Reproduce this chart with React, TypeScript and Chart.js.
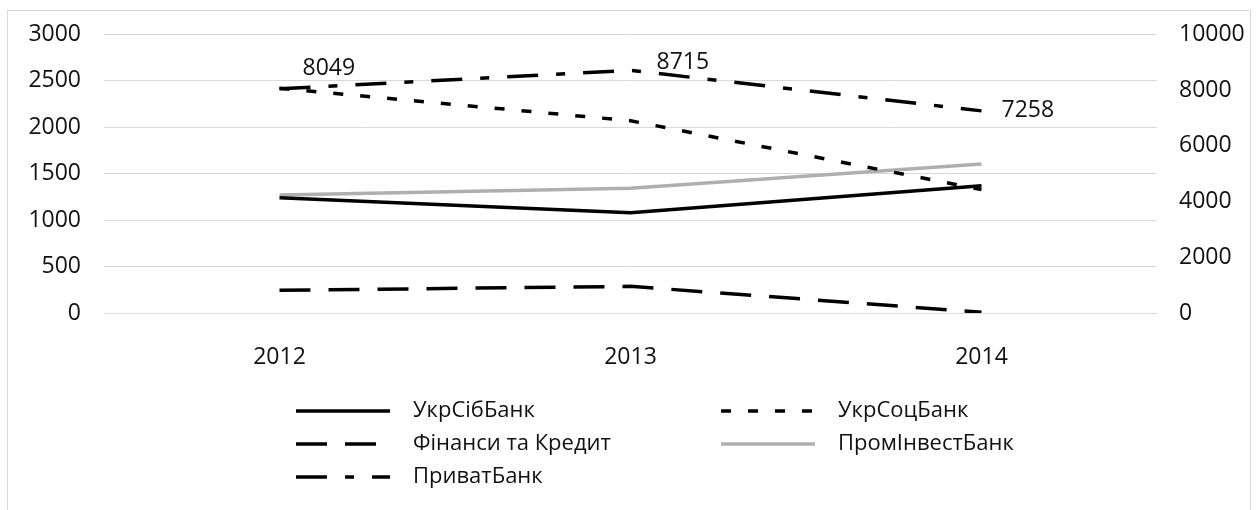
import React, { useEffect, useRef } from 'react';
import { Chart, registerables } from 'chart.js';

Chart.register(...registerables);

// ---- data ----
const years = ['2012', '2013', '2014'];
const seriesNames = ['УкрСібБанк', 'УкрСоцБанк', 'Фінанси та Кредит', 'ПромІнвестБанк', 'ПриватБанк'];
const ukrSibBank = [1242, 1080, 1371];
const ukrSotsBank = [2420, 2071, 1330];
const finansyKredyt = [244, 287, 8];
const promInvestBank = [1271, 1343, 1605];
const privatBank = [8049, 8715, 7258];
const leftAxis = { min: 0, max: 3000, step: 500 };
const rightAxis = { min: 0, max: 10000, step: 2000 };

// label nudges (styling of the manually placed data labels)
const privatLabelNudge = [
  [23, -20],
  [26, -8],
  [20, 0],
];

const FONT = '"Open Sans", "Liberation Sans", sans-serif';
const TEXT = '#111111';

const privatLabels = {
  id: 'privatLabels',
  afterDatasetsDraw(chart: any) {
    const meta = chart.getDatasetMeta(4);
    const ds = chart.data.datasets[4];
    const ctx = chart.ctx;
    ctx.save();
    ctx.font = `23px ${FONT}`;
    ctx.fillStyle = TEXT;
    ctx.textAlign = 'left';
    ctx.textBaseline = 'middle';
    meta.data.forEach((pt: any, i: number) => {
      const [dx, dy] = privatLabelNudge[i];
      ctx.fillText(String(ds.data[i]), pt.x + dx, pt.y + dy);
    });
    ctx.restore();
  },
};

const customLegend = {
  id: 'customLegend',
  afterDraw(chart: any) {
    const ctx = chart.ctx;
    const cx = chart.width / 2;
    const colLineStart = [cx - 333, cx + 92];
    const lineLen = 94;
    const textGap = 23;
    const rowY = [400, 433, 466];
    ctx.save();
    chart.data.datasets.forEach((ds: any, i: number) => {
      const col = i % 2;
      const row = Math.floor(i / 2);
      const x0 = colLineStart[col];
      const y = rowY[row];
      ctx.beginPath();
      ctx.strokeStyle = ds.borderColor;
      ctx.lineWidth = ds.borderWidth;
      ctx.lineCap = 'butt';
      ctx.setLineDash(ds.borderDash || []);
      ctx.lineDashOffset = 0;
      ctx.moveTo(x0, y);
      ctx.lineTo(x0 + lineLen, y);
      ctx.stroke();
      ctx.setLineDash([]);
      ctx.font = `22px ${FONT}`;
      ctx.fillStyle = TEXT;
      ctx.textAlign = 'left';
      ctx.textBaseline = 'middle';
      ctx.fillText(ds.label, x0 + lineLen + textGap, y);
    });
    ctx.restore();
  },
};

export default function App() {
  const ref = useRef<HTMLCanvasElement | null>(null);

  useEffect(() => {
    if (!ref.current) return;
    const common = {
      borderWidth: 3.5,
      borderCapStyle: 'butt',
      pointRadius: 0,
      pointHoverRadius: 0,
      fill: false,
      tension: 0,
    };
    const plain = (v: any) => String(v);
    const chart = new Chart(ref.current, {
      type: 'line',
      data: {
        labels: years,
        datasets: [
          { ...common, label: seriesNames[0], data: ukrSibBank, borderColor: '#000000', borderDash: [], yAxisID: 'y' },
          { ...common, label: seriesNames[1], data: ukrSotsBank, borderColor: '#000000', borderDash: [10, 17], yAxisID: 'y' },
          { ...common, label: seriesNames[2], data: finansyKredyt, borderColor: '#000000', borderDash: [31, 18], yAxisID: 'y' },
          { ...common, label: seriesNames[3], data: promInvestBank, borderColor: '#afafaf', borderDash: [], yAxisID: 'y' },
          { ...common, label: seriesNames[4], data: privatBank, borderColor: '#000000', borderDash: [31, 18, 9, 18], yAxisID: 'y1' },
        ] as any,
      },
      options: {
        responsive: false,
        animation: false,
        events: [],
        layout: { padding: { top: 23.5, bottom: 137, left: 0, right: 0 } },
        plugins: {
          legend: { display: false },
          tooltip: { enabled: false },
        },
        scales: {
          x: {
            offset: true,
            grid: { display: false, drawTicks: false },
            border: { display: false },
            ticks: { color: TEXT, font: { family: FONT, size: 23 }, padding: 31, maxRotation: 0 },
            afterFit: (s: any) => { s.height = 60; s.paddingLeft = 0; s.paddingRight = 0; },
          },
          y: {
            position: 'left',
            min: leftAxis.min,
            max: leftAxis.max,
            ticks: { stepSize: leftAxis.step, color: TEXT, font: { family: FONT, size: 23 }, padding: 23, callback: plain },
            grid: { color: '#d9d9d9', lineWidth: 1, drawTicks: false },
            border: { display: false },
            afterFit: (s: any) => { s.width = 96; s.paddingTop = 0; s.paddingBottom = 0; },
          },
          y1: {
            position: 'right',
            min: rightAxis.min,
            max: rightAxis.max,
            ticks: { stepSize: rightAxis.step, color: TEXT, font: { family: FONT, size: 23 }, padding: 22, callback: plain },
            grid: { display: false, drawTicks: false },
            border: { display: false },
            afterFit: (s: any) => { s.width = 93; s.paddingTop = 0; s.paddingBottom = 0; },
          },
        },
      } as any,
      plugins: [privatLabels, customLegend],
    });
    return () => chart.destroy();
  }, []);

  return (
    <div
      style={{
        position: 'absolute',
        left: 7,
        top: 10,
        width: 1244,
        height: 520,
        border: '1px solid #d9d9d9',
        boxSizing: 'border-box',
        background: '#fff',
      }}
    >
      <canvas ref={ref} width={1242} height={499} style={{ display: 'block' }} />
    </div>
  );
}
